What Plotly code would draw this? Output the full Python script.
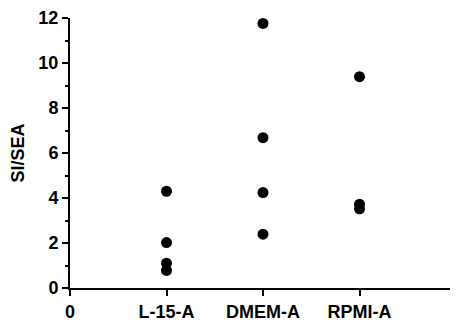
import plotly.graph_objects as go

categories = ["L-15-A", "DMEM-A", "RPMI-A"]
cat_pos = [1, 2, 3]
l15 = [4.3, 2.02, 1.1, 0.78]
dmem = [11.76, 6.68, 4.24, 2.39]
rpmi = [9.39, 3.72, 3.52]

xs, ys = [], []
for pos, vals in zip(cat_pos, [l15, dmem, rpmi]):
    for v in vals:
        xs.append(pos)
        ys.append(v)

font = dict(family="Liberation Sans, Arial, sans-serif", size=18, color="black", weight="bold")

fig = go.Figure(go.Scatter(x=xs, y=ys, mode="markers", cliponaxis=False,
                           marker=dict(size=11, color="black"), showlegend=False))
# page body has an 8px default margin; figure sized to fill the rest of the window
fig.update_layout(
    width=450, height=314,
    margin=dict(l=62, r=2, t=10, b=34, autoexpand=False),
    plot_bgcolor="white", paper_bgcolor="white",
    font=font,
)
fig.update_xaxes(range=[0, 4], tickmode="array", tickvals=[0, 1, 2, 3, 4],
                 ticktext=["0"] + categories + [""], automargin=False,
                 showline=True, linecolor="black", linewidth=2,
                 ticks="outside", ticklen=6, tickwidth=2, tickcolor="black",
                 showgrid=False, zeroline=False, tickfont=font)
fig.update_yaxes(range=[0, 12], tickmode="linear", dtick=2, tick0=0, automargin=False,
                 showline=True, linecolor="black", linewidth=2,
                 ticks="outside", ticklen=6, tickwidth=2, tickcolor="black",
                 minor=dict(dtick=1, ticks="outside", ticklen=3, tickwidth=1.5, tickcolor="black"),
                 showgrid=False, zeroline=False, tickfont=font,
                 title=dict(text="SI/SEA", font=font, standoff=12))
fig.write_html("out.html")
